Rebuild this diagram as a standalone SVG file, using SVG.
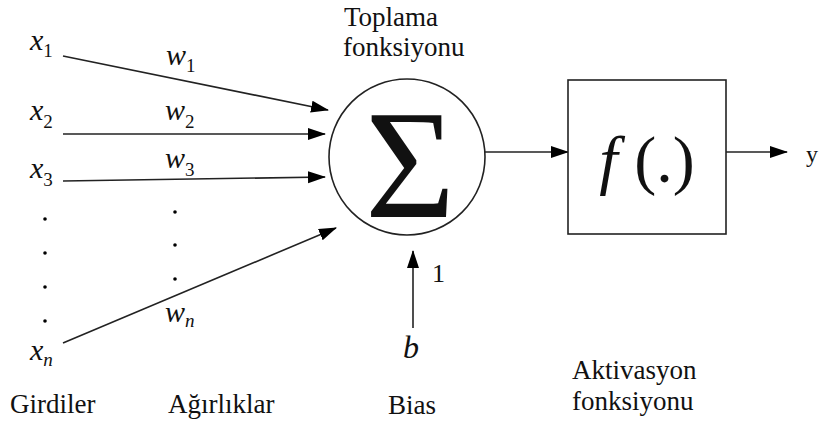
<svg xmlns="http://www.w3.org/2000/svg" width="820" height="427" viewBox="0 0 820 427" font-family="'Liberation Serif', 'DejaVu Serif', 'Times New Roman', serif">
<defs>
<marker id="ah" markerUnits="userSpaceOnUse" markerWidth="18" markerHeight="14" refX="17" refY="6" orient="auto">
<path d="M0,0 L18,6 L0,12 Z" fill="#000"/>
</marker>
<style>
text{font-family:'Liberation Serif','DejaVu Serif','Times New Roman',serif;fill:#111;}
.lbl{font-size:27px;}
.it{font-style:italic;}
.ln{stroke:#222;stroke-width:1.6;fill:none;}
.dot{fill:#000;}
</style>
</defs>
<rect width="820" height="427" fill="#fff"/>
<g id="connectors">
<line class="ln" x1="63" y1="56" x2="328" y2="110" marker-end="url(#ah)"/>
<line class="ln" x1="63" y1="134" x2="325" y2="134" marker-end="url(#ah)"/>
<line class="ln" x1="63" y1="181" x2="325" y2="177" marker-end="url(#ah)"/>
<line class="ln" x1="63" y1="343" x2="336" y2="228" marker-end="url(#ah)"/>
<line class="ln" x1="413" y1="328" x2="413" y2="251" marker-end="url(#ah)"/>
<line class="ln" x1="485" y1="152" x2="568" y2="152" marker-end="url(#ah)"/>
<line class="ln" x1="726" y1="152" x2="787" y2="152" marker-end="url(#ah)"/>
</g>
<g id="inputs">
<text class="it" x="30" y="50" font-size="30">x<tspan font-style="normal" font-size="19" dy="7">1</tspan></text>
<text class="it" x="30" y="120" font-size="30">x<tspan font-style="normal" font-size="19" dy="8">2</tspan></text>
<text class="it" x="30" y="178" font-size="30">x<tspan font-style="normal" font-size="19" dy="8">3</tspan></text>
<text class="it" x="30" y="360" font-size="30">x<tspan font-size="19" dy="6">n</tspan></text>
<circle class="dot" cx="45" cy="219" r="1.8"/>
<circle class="dot" cx="45" cy="253" r="1.8"/>
<circle class="dot" cx="45" cy="287" r="1.8"/>
<circle class="dot" cx="45" cy="321" r="1.8"/>
</g>
<g id="weights">
<text class="it" x="166" y="65" font-size="30">w<tspan font-style="normal" font-size="19" dy="7">1</tspan></text>
<text class="it" x="165" y="120" font-size="30">w<tspan font-style="normal" font-size="19" dy="8">2</tspan></text>
<text class="it" x="165" y="168" font-size="30">w<tspan font-style="normal" font-size="19" dy="8">3</tspan></text>
<text class="it" x="165" y="322" font-size="30">w<tspan font-size="19" dy="5">n</tspan></text>
<circle class="dot" cx="175" cy="212" r="1.8"/>
<circle class="dot" cx="175" cy="245" r="1.8"/>
<circle class="dot" cx="175" cy="279" r="1.8"/>
</g>
<g id="sum">
<circle cx="407" cy="157" r="78" fill="#fff" stroke="#222" stroke-width="1.6"/>
<text x="410" y="217" font-size="155" text-anchor="middle">Σ</text>
<text class="lbl" x="344" y="26">Toplama</text>
<text class="lbl" x="343" y="56">fonksiyonu</text>
</g>
<g id="bias">
<text x="432" y="282" font-size="26">1</text>
<text class="it" x="403" y="358" font-size="32">b</text>
<text class="lbl" x="388" y="414">Bias</text>
</g>
<g id="activation">
<rect x="568" y="80" width="158" height="154" fill="#fff" stroke="#222" stroke-width="1.6"/>
<text x="647" y="182" font-size="66" text-anchor="middle"><tspan font-style="italic">f</tspan> (.)</text>
<text class="lbl" x="572" y="379">Aktivasyon</text>
<text class="lbl" x="572" y="410">fonksiyonu</text>
</g>
<g id="output">
<text x="806" y="162" font-size="24">y</text>
</g>
<g id="labels">
<text class="lbl" x="10" y="413">Girdiler</text>
<text class="lbl" x="168" y="413">Ağırlıklar</text>
</g>
</svg>
